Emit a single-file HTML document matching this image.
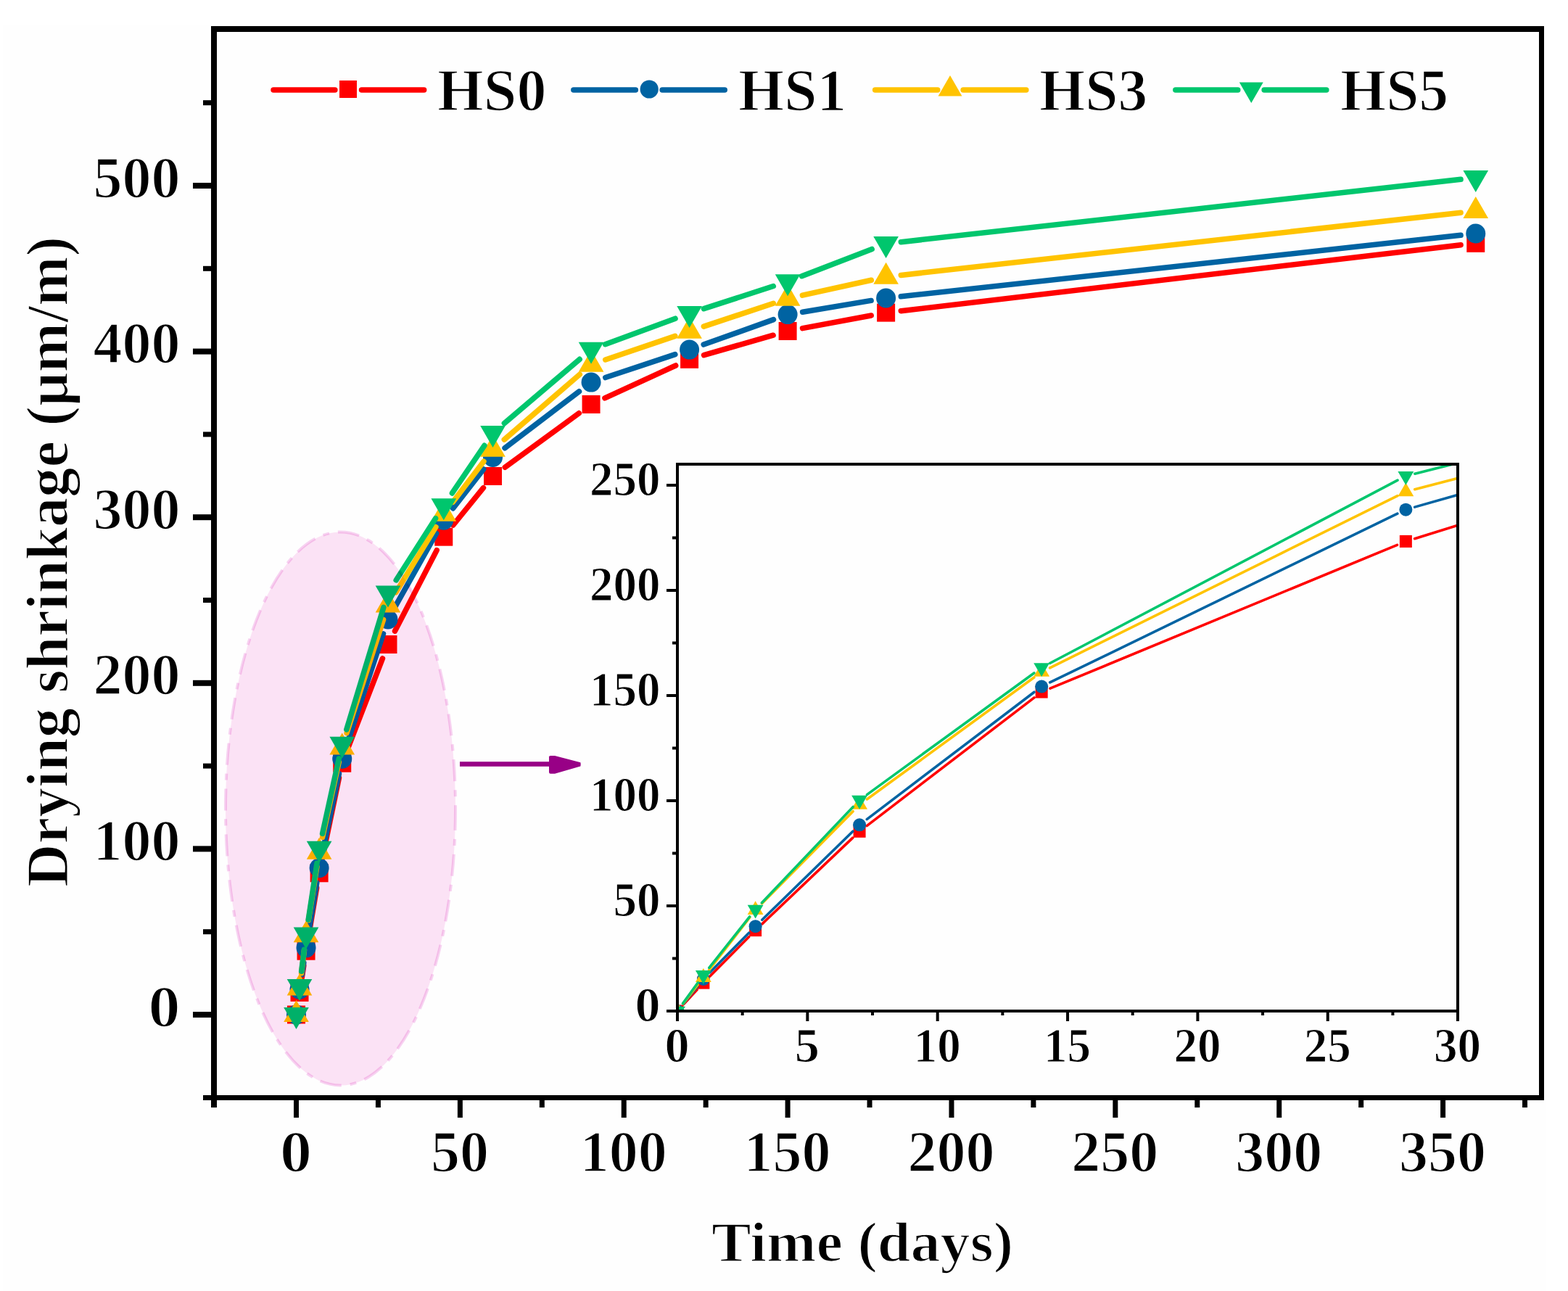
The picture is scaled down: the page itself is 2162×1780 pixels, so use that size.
<!DOCTYPE html><html><head><meta charset="utf-8"><title>Drying shrinkage</title>
<style>html,body{margin:0;padding:0;background:#fff;}svg{display:block;}text{font-family:'Liberation Serif', 'DejaVu Serif', serif;font-weight:bold;fill:#000;}</style></head><body>
<svg width="2162" height="1780" viewBox="0 0 2162 1780">
<rect width="2162" height="1780" fill="#ffffff"/>
<rect x="4" y="34" width="2127" height="1746" fill="#fefefe"/>
<g>
<path d="M416.27 1347.82L418.8 1331.76M425.5 1290.71L436.67 1224.29M444.37 1183.41L467.5 1072.58M479.24 1032.81L527.49 907.94M544.55 870.06L602.22 758.65M624.87 724.01L666.45 672.67M696.34 644.24L798.27 569.79M833.97 548.85L931.68 504.02M970.58 489.61L1066.12 462.22M1106.55 452.65L1201.19 434.94M1242.29 428.67L2014.11 337.76" stroke="#FF0000" stroke-width="7.5" stroke-linecap="round" fill="none"/>
<rect x="396" y="1386.5" width="25" height="25" fill="#FF0000"/>
<rect x="400.52" y="1355.87" width="25" height="25" fill="#FF0000"/>
<rect x="409.55" y="1298.72" width="25" height="25" fill="#FF0000"/>
<rect x="427.62" y="1191.28" width="25" height="25" fill="#FF0000"/>
<rect x="459.24" y="1039.71" width="25" height="25" fill="#FF0000"/>
<rect x="522.49" y="876.04" width="25" height="25" fill="#FF0000"/>
<rect x="599.28" y="727.67" width="25" height="25" fill="#FF0000"/>
<rect x="667.04" y="644.01" width="25" height="25" fill="#FF0000"/>
<rect x="802.57" y="545.02" width="25" height="25" fill="#FF0000"/>
<rect x="938.09" y="482.84" width="25" height="25" fill="#FF0000"/>
<rect x="1073.61" y="443.98" width="25" height="25" fill="#FF0000"/>
<rect x="1209.13" y="418.61" width="25" height="25" fill="#FF0000"/>
<rect x="2022.26" y="322.82" width="25" height="25" fill="#FF0000"/>
<path d="M416.25 1343.71L418.82 1327.42M425.42 1286.35L436.76 1217.21M444.4 1176.33L467.46 1066.63M478.24 1026.51L528.49 873.78M545.17 835.88L601.6 735.45M624.58 700.91L666.75 646.85M696.08 617.84L798.53 539.73M834.8 520.56L930.85 488.64M970.17 475.08L1066.52 440.63M1106.63 430.2L1201.12 414.42M1242.31 408.73L2014.09 324.33" stroke="#0063A2" stroke-width="7.5" stroke-linecap="round" fill="none"/>
<circle cx="408.5" cy="1399" r="13.5" fill="#0063A2"/>
<circle cx="413.02" cy="1364.25" r="13.5" fill="#0063A2"/>
<circle cx="422.05" cy="1306.87" r="13.5" fill="#0063A2"/>
<circle cx="440.12" cy="1196.69" r="13.5" fill="#0063A2"/>
<circle cx="471.74" cy="1046.27" r="13.5" fill="#0063A2"/>
<circle cx="534.99" cy="854.02" r="13.5" fill="#0063A2"/>
<circle cx="611.78" cy="717.31" r="13.5" fill="#0063A2"/>
<circle cx="679.54" cy="630.45" r="13.5" fill="#0063A2"/>
<circle cx="815.07" cy="527.12" r="13.5" fill="#0063A2"/>
<circle cx="950.59" cy="482.09" r="13.5" fill="#0063A2"/>
<circle cx="1086.11" cy="433.62" r="13.5" fill="#0063A2"/>
<circle cx="1221.63" cy="410.99" r="13.5" fill="#0063A2"/>
<circle cx="2034.76" cy="322.07" r="13.5" fill="#0063A2"/>
<path d="M415.57 1341.78L419.5 1309.92M425.29 1268.73L436.88 1195.29M444.58 1154.43L467.29 1050.81M478.13 1010.7L528.6 854.38M545.83 816.84L600.94 726.61M624.37 692.3L666.96 636.26M695.29 606.11L799.32 516.25M834.76 495.98L930.89 463.39M970.33 450.15L1066.37 418.24M1106.42 407.19L1201.32 386.22M1242.3 379.42L2014.09 293.28" stroke="#FFC300" stroke-width="7.5" stroke-linecap="round" fill="none"/>
<polygon points="408.5,1379 425.82,1409 391.18,1409" fill="#FFC300"/>
<polygon points="413.02,1342.42 430.34,1372.42 395.7,1372.42" fill="#FFC300"/>
<polygon points="422.05,1269.27 439.37,1299.27 404.73,1299.27" fill="#FFC300"/>
<polygon points="440.12,1154.74 457.44,1184.74 422.8,1184.74" fill="#FFC300"/>
<polygon points="471.74,1010.5 489.06,1040.5 454.42,1040.5" fill="#FFC300"/>
<polygon points="534.99,814.59 552.31,844.59 517.67,844.59" fill="#FFC300"/>
<polygon points="611.78,688.86 629.1,718.86 594.46,718.86" fill="#FFC300"/>
<polygon points="679.54,599.7 696.86,629.7 662.22,629.7" fill="#FFC300"/>
<polygon points="815.07,482.66 832.39,512.66 797.75,512.66" fill="#FFC300"/>
<polygon points="950.59,436.71 967.91,466.71 933.27,466.71" fill="#FFC300"/>
<polygon points="1086.11,391.68 1103.43,421.68 1068.79,421.68" fill="#FFC300"/>
<polygon points="1221.63,361.73 1238.95,391.73 1204.31,391.73" fill="#FFC300"/>
<polygon points="2034.76,270.98 2052.08,300.98 2017.44,300.98" fill="#FFC300"/>
<path d="M415.63 1339.27L419.44 1309.22M425.18 1268.02L437 1190.28M444.58 1149.4L467.28 1046.01M477.79 1005.79L528.94 837.34M546.18 799.91L600.59 714.73M623.44 679.97L667.89 614.3M695.39 583.6L799.22 495.33M834.59 474.68L931.07 439.2M970.38 425.61L1066.32 394.54M1105.52 380.66L1202.22 343.48M1242.3 333.7L2014.09 247.34" stroke="#00C66D" stroke-width="7.5" stroke-linecap="round" fill="none"/>
<polygon points="391.18,1389 425.82,1389 408.5,1419" fill="#00C66D"/>
<polygon points="395.7,1349.91 430.34,1349.91 413.02,1379.91" fill="#00C66D"/>
<polygon points="404.73,1278.59 439.37,1278.59 422.05,1308.59" fill="#00C66D"/>
<polygon points="422.8,1159.71 457.44,1159.71 440.12,1189.71" fill="#00C66D"/>
<polygon points="454.42,1015.7 489.06,1015.7 471.74,1045.7" fill="#00C66D"/>
<polygon points="517.67,807.44 552.31,807.44 534.99,837.44" fill="#00C66D"/>
<polygon points="594.46,687.2 629.1,687.2 611.78,717.2" fill="#00C66D"/>
<polygon points="662.22,587.07 696.86,587.07 679.54,617.07" fill="#00C66D"/>
<polygon points="797.75,471.86 832.39,471.86 815.07,501.86" fill="#00C66D"/>
<polygon points="933.27,422.02 967.91,422.02 950.59,452.02" fill="#00C66D"/>
<polygon points="1068.79,378.13 1103.43,378.13 1086.11,408.13" fill="#00C66D"/>
<polygon points="1204.31,326.01 1238.95,326.01 1221.63,356.01" fill="#00C66D"/>
<polygon points="2017.44,235.03 2052.08,235.03 2034.76,265.03" fill="#00C66D"/>
</g>
<ellipse cx="469.5" cy="1115" rx="158.5" ry="381.5" fill="#FCE3F6" style="mix-blend-mode:multiply"/>
<ellipse cx="469.5" cy="1115" rx="158.5" ry="381.5" fill="none" stroke="#F8D4F2" stroke-width="4" stroke-dasharray="30 12 9 12" style="mix-blend-mode:multiply"/>
<rect x="634" y="1050.2" width="124" height="6.6" fill="#980086"/>
<path d="M757 1043.6 Q757 1042 759 1042 L765 1042 L800.4 1051.2 Q801 1053.8 800.4 1056.4 L765 1066.7 L759 1066.7 Q757 1066.7 757 1064.5 Z" fill="#980086"/>
<g fill="#000">
<rect x="291" y="36" width="8" height="1491"/>
<rect x="291" y="36" width="1838" height="8"/>
<rect x="2122" y="36" width="7" height="1481"/>
<rect x="280" y="1510" width="1849" height="7"/>
<rect x="266" y="1395" width="25" height="8"/>
<rect x="266" y="1166.4" width="25" height="8"/>
<rect x="266" y="937.8" width="25" height="8"/>
<rect x="266" y="709.2" width="25" height="8"/>
<rect x="266" y="480.6" width="25" height="8"/>
<rect x="266" y="252" width="25" height="8"/>
<rect x="280" y="1281.2" width="11" height="7"/>
<rect x="280" y="1052.6" width="11" height="7"/>
<rect x="280" y="824" width="11" height="7"/>
<rect x="280" y="595.4" width="11" height="7"/>
<rect x="280" y="366.8" width="11" height="7"/>
<rect x="280" y="138.2" width="11" height="7"/>
<rect x="405" y="1517" width="7" height="24"/>
<rect x="630.87" y="1517" width="7" height="24"/>
<rect x="856.74" y="1517" width="7" height="24"/>
<rect x="1082.61" y="1517" width="7" height="24"/>
<rect x="1308.48" y="1517" width="7" height="24"/>
<rect x="1534.35" y="1517" width="7" height="24"/>
<rect x="1760.22" y="1517" width="7" height="24"/>
<rect x="1986.09" y="1517" width="7" height="24"/>
<rect x="517.93" y="1517" width="7" height="10"/>
<rect x="743.81" y="1517" width="7" height="10"/>
<rect x="969.68" y="1517" width="7" height="10"/>
<rect x="1195.55" y="1517" width="7" height="10"/>
<rect x="1421.41" y="1517" width="7" height="10"/>
<rect x="1647.29" y="1517" width="7" height="10"/>
<rect x="1873.16" y="1517" width="7" height="10"/>
<rect x="2099.03" y="1517" width="7" height="10"/>
</g>
<text transform="translate(248.5 1414.5) scale(1.1 1.01)" font-size="80" text-anchor="end" stroke="#fefefe" stroke-width="1.7">0</text>
<text transform="translate(248.5 1185.9) scale(1 1.01)" font-size="80" text-anchor="end" stroke="#fefefe" stroke-width="1.7">100</text>
<text transform="translate(248.5 957.3) scale(1 1.01)" font-size="80" text-anchor="end" stroke="#fefefe" stroke-width="1.7">200</text>
<text transform="translate(248.5 728.7) scale(1 1.01)" font-size="80" text-anchor="end" stroke="#fefefe" stroke-width="1.7">300</text>
<text transform="translate(248.5 500.1) scale(1 1.01)" font-size="80" text-anchor="end" stroke="#fefefe" stroke-width="1.7">400</text>
<text transform="translate(248.5 271.5) scale(1 1.01)" font-size="80" text-anchor="end" stroke="#fefefe" stroke-width="1.7">500</text>
<text transform="translate(408 1614.5) scale(1.1 1.01)" font-size="80" text-anchor="middle" stroke="#fefefe" stroke-width="1.7">0</text>
<text transform="translate(633.87 1614.5) scale(1 1.01)" font-size="80" text-anchor="middle" stroke="#fefefe" stroke-width="1.7">50</text>
<text transform="translate(859.74 1614.5) scale(1 1.01)" font-size="80" text-anchor="middle" stroke="#fefefe" stroke-width="1.7">100</text>
<text transform="translate(1085.61 1614.5) scale(1 1.01)" font-size="80" text-anchor="middle" stroke="#fefefe" stroke-width="1.7">150</text>
<text transform="translate(1311.48 1614.5) scale(1 1.01)" font-size="80" text-anchor="middle" stroke="#fefefe" stroke-width="1.7">200</text>
<text transform="translate(1537.35 1614.5) scale(1 1.01)" font-size="80" text-anchor="middle" stroke="#fefefe" stroke-width="1.7">250</text>
<text transform="translate(1763.22 1614.5) scale(1 1.01)" font-size="80" text-anchor="middle" stroke="#fefefe" stroke-width="1.7">300</text>
<text transform="translate(1989.09 1614.5) scale(1 1.01)" font-size="80" text-anchor="middle" stroke="#fefefe" stroke-width="1.7">350</text>
<text transform="translate(981 1739)" font-size="78" stroke="#fefefe" stroke-width="1.7" textLength="416" lengthAdjust="spacingAndGlyphs">Time (days)</text>
<text transform="translate(93 1223) rotate(-90)" font-size="82" stroke="#fefefe" stroke-width="1.7" textLength="897" lengthAdjust="spacingAndGlyphs">Drying shrinkage (μm/m)</text>
<path d="M377.05 124H461.85M498.55 124H584.65" stroke="#FF0000" stroke-width="7.5" stroke-linecap="round"/>
<rect x="468" y="111" width="24" height="24" fill="#FF0000"/>
<text transform="translate(603.1 152) scale(1 1.02)" font-size="81" stroke="#fefefe" stroke-width="1.7" textLength="150.3" lengthAdjust="spacingAndGlyphs">HS0</text>
<path d="M790.85 124H876.35M913.15 124H999.25" stroke="#0063A2" stroke-width="7.5" stroke-linecap="round"/>
<circle cx="895.2" cy="123" r="12.6" fill="#0063A2"/>
<text transform="translate(1018 152) scale(1 1.02)" font-size="81" stroke="#fefefe" stroke-width="1.7" textLength="149" lengthAdjust="spacingAndGlyphs">HS1</text>
<path d="M1206.65 124H1292.75M1328.15 124H1414.85" stroke="#FFC300" stroke-width="7.5" stroke-linecap="round"/>
<polygon points="1310,104 1326.45,132.5 1293.55,132.5" fill="#FFC300"/>
<text transform="translate(1433 152) scale(1 1.02)" font-size="81" stroke="#fefefe" stroke-width="1.7" textLength="149.3" lengthAdjust="spacingAndGlyphs">HS3</text>
<path d="M1620.85 124H1706.75M1743.15 124H1828.85" stroke="#00C66D" stroke-width="7.5" stroke-linecap="round"/>
<polygon points="1708.85,113.5 1741.75,113.5 1725.3,142" fill="#00C66D"/>
<text transform="translate(1848 152) scale(1 1.02)" font-size="81" stroke="#fefefe" stroke-width="1.7" textLength="149" lengthAdjust="spacingAndGlyphs">HS5</text>
<defs><clipPath id="ic"><rect x="936" y="642" width="1072" height="750"/></clipPath></defs>
<g clip-path="url(#ic)">
<path d="M942.68 1384.59L961.19 1364.55M978.87 1346.04L1032.61 1291.74M1050.89 1273.82L1175.81 1155.16M1195.25 1138.56L1426.02 961.85M1448.01 949.18L1926.53 751.32M1950.59 742.66L2535.92 561.99" stroke="#FF0000" stroke-width="3.6" stroke-linecap="round" fill="none"/>
<rect x="925.5" y="1385.5" width="17" height="17" fill="#FF0000"/>
<rect x="961.37" y="1346.64" width="17" height="17" fill="#FF0000"/>
<rect x="1033.11" y="1274.14" width="17" height="17" fill="#FF0000"/>
<rect x="1176.59" y="1137.84" width="17" height="17" fill="#FF0000"/>
<rect x="1427.68" y="945.57" width="17" height="17" fill="#FF0000"/>
<rect x="1929.86" y="737.93" width="17" height="17" fill="#FF0000"/>
<rect x="2539.65" y="549.72" width="17" height="17" fill="#FF0000"/>
<path d="M942.08 1384.07L961.79 1359.85M978.85 1340.8L1032.63 1286.25M1050.78 1268.2L1175.92 1146.28M1195.28 1129.61L1425.99 954.27M1447.69 940.94L1926.85 708.23M1950.67 699.14L2535.84 532.72" stroke="#0063A2" stroke-width="3.6" stroke-linecap="round" fill="none"/>
<circle cx="934" cy="1394" r="9" fill="#0063A2"/>
<circle cx="969.87" cy="1349.92" r="9" fill="#0063A2"/>
<circle cx="1041.61" cy="1277.13" r="9" fill="#0063A2"/>
<circle cx="1185.09" cy="1137.35" r="9" fill="#0063A2"/>
<circle cx="1436.18" cy="946.53" r="9" fill="#0063A2"/>
<circle cx="1938.36" cy="702.64" r="9" fill="#0063A2"/>
<circle cx="2548.15" cy="529.22" r="9" fill="#0063A2"/>
<path d="M941.83 1383.87L962.04 1357.73M977.7 1337.47L1033.78 1264.93M1050.6 1245.69L1176.1 1118.62M1195.43 1101.97L1425.84 934.06M1447.65 920.84L1926.89 683.67M1950.74 674.75L2535.77 521.73" stroke="#FFC300" stroke-width="3.6" stroke-linecap="round" fill="none"/>
<polygon points="934,1381.4 944.91,1400.3 923.09,1400.3" fill="#FFC300"/>
<polygon points="969.87,1335 980.78,1353.9 958.96,1353.9" fill="#FFC300"/>
<polygon points="1041.61,1242.2 1052.52,1261.1 1030.7,1261.1" fill="#FFC300"/>
<polygon points="1185.09,1096.91 1196,1115.81 1174.18,1115.81" fill="#FFC300"/>
<polygon points="1436.18,913.92 1447.09,932.82 1425.27,932.82" fill="#FFC300"/>
<polygon points="1938.36,665.39 1949.27,684.29 1927.45,684.29" fill="#FFC300"/>
<polygon points="2548.15,505.89 2559.06,524.79 2537.24,524.79" fill="#FFC300"/>
<path d="M941.5 1383.63L962.37 1354.78M977.82 1334.38L1033.66 1263.96M1050.43 1244.66L1176.27 1112.4M1195.44 1095.6L1425.83 927.96M1447.51 914.47L1927.03 662.2M1950.78 653.13L2535.73 506.81" stroke="#00C66D" stroke-width="3.6" stroke-linecap="round" fill="none"/>
<polygon points="923.09,1387.7 944.91,1387.7 934,1406.6" fill="#00C66D"/>
<polygon points="958.96,1338.11 980.78,1338.11 969.87,1357.01" fill="#00C66D"/>
<polygon points="1030.7,1247.63 1052.52,1247.63 1041.61,1266.53" fill="#00C66D"/>
<polygon points="1174.18,1096.83 1196,1096.83 1185.09,1115.73" fill="#00C66D"/>
<polygon points="1425.27,914.13 1447.09,914.13 1436.18,933.03" fill="#00C66D"/>
<polygon points="1927.45,649.94 1949.27,649.94 1938.36,668.84" fill="#00C66D"/>
<polygon points="2537.24,497.4 2559.06,497.4 2548.15,516.3" fill="#00C66D"/>
</g>
<g fill="#000">
<rect x="932" y="638" width="4" height="770"/>
<rect x="932" y="638" width="80" height="0"/>
<rect x="932" y="638" width="1080" height="4"/>
<rect x="2008" y="638" width="4" height="770"/>
<rect x="919" y="1392" width="1093" height="4"/>
<rect x="919" y="1247" width="13" height="4"/>
<rect x="919" y="1102" width="13" height="4"/>
<rect x="919" y="957" width="13" height="4"/>
<rect x="919" y="812" width="13" height="4"/>
<rect x="919" y="667" width="13" height="4"/>
<rect x="927" y="1319.5" width="5" height="4"/>
<rect x="927" y="1174.5" width="5" height="4"/>
<rect x="927" y="1029.5" width="5" height="4"/>
<rect x="927" y="884.5" width="5" height="4"/>
<rect x="927" y="739.5" width="5" height="4"/>
<rect x="1111.35" y="1396" width="4" height="12"/>
<rect x="1290.7" y="1396" width="4" height="12"/>
<rect x="1470.05" y="1396" width="4" height="12"/>
<rect x="1649.4" y="1396" width="4" height="12"/>
<rect x="1828.75" y="1396" width="4" height="12"/>
<rect x="1021.67" y="1396" width="4" height="4"/>
<rect x="1201.03" y="1396" width="4" height="4"/>
<rect x="1380.38" y="1396" width="4" height="4"/>
<rect x="1559.72" y="1396" width="4" height="4"/>
<rect x="1739.07" y="1396" width="4" height="4"/>
<rect x="1918.42" y="1396" width="4" height="4"/>
</g>
<text transform="translate(910.5 1408.3) scale(1.08 1.04)" font-size="65" text-anchor="end" stroke="#fefefe" stroke-width="1.1">0</text>
<text transform="translate(910.5 1263.3) scale(1 1.04)" font-size="65" text-anchor="end" stroke="#fefefe" stroke-width="1.1">50</text>
<text transform="translate(910.5 1118.3) scale(1 1.04)" font-size="65" text-anchor="end" stroke="#fefefe" stroke-width="1.1">100</text>
<text transform="translate(910.5 973.3) scale(1 1.04)" font-size="65" text-anchor="end" stroke="#fefefe" stroke-width="1.1">150</text>
<text transform="translate(910.5 828.3) scale(1 1.04)" font-size="65" text-anchor="end" stroke="#fefefe" stroke-width="1.1">200</text>
<text transform="translate(910.5 683.3) scale(1 1.04)" font-size="65" text-anchor="end" stroke="#fefefe" stroke-width="1.1">250</text>
<text transform="translate(933.5 1463.5) scale(1.05 1.04)" font-size="65" text-anchor="middle" stroke="#fefefe" stroke-width="1.1">0</text>
<text transform="translate(1112.85 1463.5) scale(1.05 1.04)" font-size="65" text-anchor="middle" stroke="#fefefe" stroke-width="1.1">5</text>
<text transform="translate(1292.2 1463.5) scale(1 1.04)" font-size="65" text-anchor="middle" stroke="#fefefe" stroke-width="1.1">10</text>
<text transform="translate(1471.55 1463.5) scale(1 1.04)" font-size="65" text-anchor="middle" stroke="#fefefe" stroke-width="1.1">15</text>
<text transform="translate(1650.9 1463.5) scale(1 1.04)" font-size="65" text-anchor="middle" stroke="#fefefe" stroke-width="1.1">20</text>
<text transform="translate(1830.25 1463.5) scale(1 1.04)" font-size="65" text-anchor="middle" stroke="#fefefe" stroke-width="1.1">25</text>
<text transform="translate(2009.6 1463.5) scale(1 1.04)" font-size="65" text-anchor="middle" stroke="#fefefe" stroke-width="1.1">30</text>
</svg></body></html>
